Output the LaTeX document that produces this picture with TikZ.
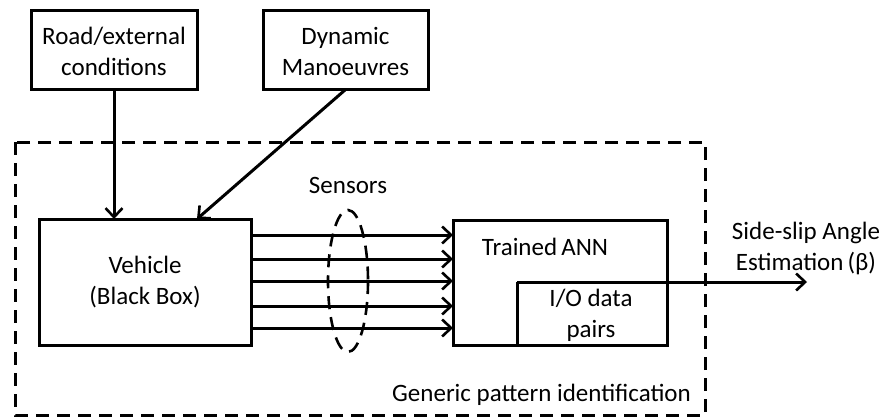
\documentclass[tikz,border=0pt]{standalone}
\usepackage{fontspec}
\setmainfont{Carlito}
\usetikzlibrary{arrows.meta}
\begin{document}
\begin{tikzpicture}[x=1pt,y=-1pt,
  box/.style={draw,line width=3pt,inner sep=0pt},
  lbl/.style={font=\fontsize{25}{31}\selectfont,align=center,inner sep=0pt},
  conn/.style={line width=3pt,-{Straight Barb[length=9pt,width=17pt,line width=2.6pt]}},
  dsh/.style={line width=3pt,dash pattern=on 13pt off 8pt}]
\useasboundingbox (0,0) rectangle (882,417);
% boxes
\draw[box] (31,11) rectangle (197,90);
\node[lbl] (road) at (114,51) {Road/external\\conditions};
\draw[box] (263,11) rectangle (428,90);
\node[lbl] (dyn) at (345.5,51) {Dynamic\\Manoeuvres};
\coordinate (roadb) at (114,90);
\coordinate (dynb) at (345,90);
% dashed frame
\draw[dsh] (15,142) rectangle (705,415);
\node[lbl,anchor=east] (gen) at (691,395) {Generic pattern identification};
% vehicle
\draw[box] (39,219) rectangle (251,345);
\node[lbl] (veh) at (145,282) {Vehicle\\(Black Box)};
\coordinate (vehr) at (114,219);
\coordinate (vehd) at (197,219);
\draw[conn] (roadb) -- (vehr);
\draw[conn] (dynb) -- (vehd);
% ANN
\draw[box] (453,220) rectangle (667,345);
\node[lbl] (ann) at (545,247) {Trained\,ANN};
\draw[line width=3pt] (517,345) -- (517,282);
\node[lbl] (io) at (591,315) {I/O data\\pairs};
\coordinate (ioc) at (517,282);
\coordinate (outp) at (807,282);
\draw[conn] (ioc) -- (outp);
\node[lbl] (out) at (806,248) {Side-slip Angle\\Estimation\,(β)};
% sensors
\foreach \yy [count=\i] in {235,259,281,306,328}{
  \coordinate (s\i) at (251,\yy);
  \coordinate (t\i) at (453,\yy);
  \draw[conn] (s\i) -- (t\i);
}
\draw[line width=2.6pt,dash pattern=on 13pt off 8pt] (348,281) ellipse (20 and 71);
\node[lbl] (sens) at (348,185) {Sensors};
\end{tikzpicture}
\end{document}
